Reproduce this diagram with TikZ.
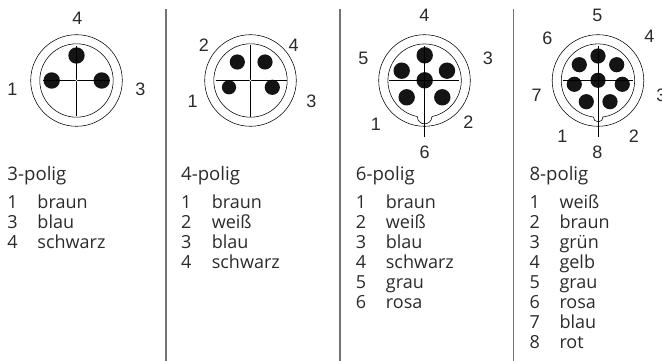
\documentclass[tikz,border=0pt]{standalone}
\usepackage{fontspec}
\setmainfont{Open Sans}
\newfontfamily\lblfont{Liberation Sans}
\definecolor{txt}{gray}{0.17}
\tikzset{
 x=1pt,y=-1pt,
 ring/.style={draw=black,line width=0.55pt},
 hair/.style={draw=black,line width=0.75pt},
 pin/.style={fill=black!92},
 divider/.style={draw=black!55,line width=1.2pt},
 pinlabel/.style={inner sep=0pt,font=\lblfont\fontsize{18}{20}\selectfont,text=txt},
 body/.style={anchor=base west,inner sep=0pt,font=\fontsize{18}{20}\selectfont,text=txt},
 head/.style={anchor=base west,inner sep=0pt,font=\fontsize{18.6}{20}\selectfont,text=txt}
}
\newcommand{\legend}[4]{% x, name x offset, name, list
  \node[head] (h#3) at (#1,180) {#3-polig};
  \foreach \n/\c [count=\i from 0] in {#4}{
    \node[body] at (#1,{208+20*\i}) {\n};
    \node[body] at ({#1+#2},{208+20*\i}) {\c};
  }
}
\begin{document}
\begin{tikzpicture}
\useasboundingbox (0,0) rectangle (662,361);
\fill[white] (0,0) rectangle (662,361);
% dividers
\coordinate (d1a) at (166,9.5); \coordinate (d1b) at (166,361);
\coordinate (d2a) at (340,9.5); \coordinate (d2b) at (340,361);
\coordinate (d3a) at (513.7,9.5); \coordinate (d3b) at (513.7,361);
\draw[divider] (d1a)--(d1b); \draw[divider] (d2a)--(d2b); \draw[divider] (d3a)--(d3b);
% connector 1
\draw[ring] (76.5,80.5) circle[radius=45.8];
\draw[ring] (76.5,80.5) circle[radius=36.7];
\foreach \p in {(76.5,55.5),(51.7,80.5),(101.7,80.5)} \fill[pin] \p circle[radius=8.2];
\draw[hair] (43.3,80.5)--(110,80.5);
\draw[hair] (76.5,45.7)--(76.5,115.7);
\fill[white] (76.5,80.5) circle[radius=0.9];
\node[pinlabel] (a4) at (77.3,18.3) {4};
\node[pinlabel] (a1) at (12.3,89) {1};
\node[pinlabel] (a3) at (140.3,89) {3};
% connector 2
\draw[ring] (250.5,80.5) circle[radius=45.8];
\draw[ring] (250.5,80.5) circle[radius=36.7];
\fill[pin] (237.3,62) circle[radius=7.6];
\fill[pin] (265,62) circle[radius=7.6];
\fill[pin] (229,87.3) circle[radius=7.1];
\fill[pin] (272.3,87.3) circle[radius=7.6];
\draw[hair] (215.7,80.5)--(287.3,80.5);
\draw[hair] (250.5,44.7)--(250.5,116.7);
\fill[white] (250.5,80.5) circle[radius=0.9];
\node[pinlabel] (b2) at (204,45) {2};
\node[pinlabel] (b4) at (293.7,45) {4};
\node[pinlabel] (b1) at (192.7,101) {1};
\node[pinlabel] (b3) at (311.3,101) {3};
% connector 3
\draw[ring] (424.5,80.5) circle[radius=45.8];
\draw[ring] (417.3,116.6) arc[start angle=101.5,delta angle=337,radius=36.7];
\draw[ring] (417.3,116.6) arc[start angle=180,end angle=0,radius=7.3];
\foreach \p in {(424.7,55.3),(401.7,70.7),(447,70.7),(406.7,97.3),(442.3,97.3),(424.7,80.3)} \fill[pin] \p circle[radius=8.2];
\draw[hair] (389.3,80.5)--(459,80.5);
\draw[hair] (424.7,45.7)--(424.7,136.7);
\node[pinlabel] (c4) at (424.3,15) {4};
\node[pinlabel] (c5) at (363.3,58.3) {5};
\node[pinlabel] (c3) at (488,58.3) {3};
\node[pinlabel] (c1) at (376,124) {1};
\node[pinlabel] (c2) at (468.3,122.7) {2};
\node[pinlabel] (c6) at (424.7,152.7) {6};
% connector 4
\draw[ring] (598,80.5) circle[radius=45.8];
\draw[ring] (593.3,117) arc[start angle=97.3,delta angle=345.4,radius=36.7];
\draw[ring] (593.3,117) arc[start angle=180,end angle=0,radius=4.9];
\foreach \p in {(598,56),(579.3,64.7),(616.7,64.7),(574.3,84.3),(622.3,84.3),(598,80.3),(586.3,101.7),(610,101.7)} \fill[pin] \p circle[radius=7.6];
\draw[hair] (562.7,80.5)--(633.3,80.5);
\draw[hair] (598,45.7)--(598,136.7);
\node[pinlabel] (e5) at (597.3,15) {5};
\node[pinlabel] (e6) at (547.3,38.3) {6};
\node[pinlabel] (e4) at (649.3,36.7) {4};
\node[pinlabel] (e7) at (536.7,95) {7};
\node[pinlabel] (e3) at (661.5,95) {3};
\node[pinlabel] (e1) at (562.3,136) {1};
\node[pinlabel] (e2) at (634,136) {2};
\node[pinlabel] (e8) at (597.3,152.7) {8};
% legends
\legend{7.3}{30}{3}{1/braun,3/blau,4/schwarz}
\legend{181}{30.6}{4}{1/braun,2/weiß,3/blau,4/schwarz}
\legend{355.7}{30}{6}{1/braun,2/weiß,3/blau,4/schwarz,5/grau,6/rosa}
\legend{529.3}{30}{8}{1/weiß,2/braun,3/grün,4/gelb,5/grau,6/rosa,7/blau,8/rot}
\end{tikzpicture}
\end{document}
